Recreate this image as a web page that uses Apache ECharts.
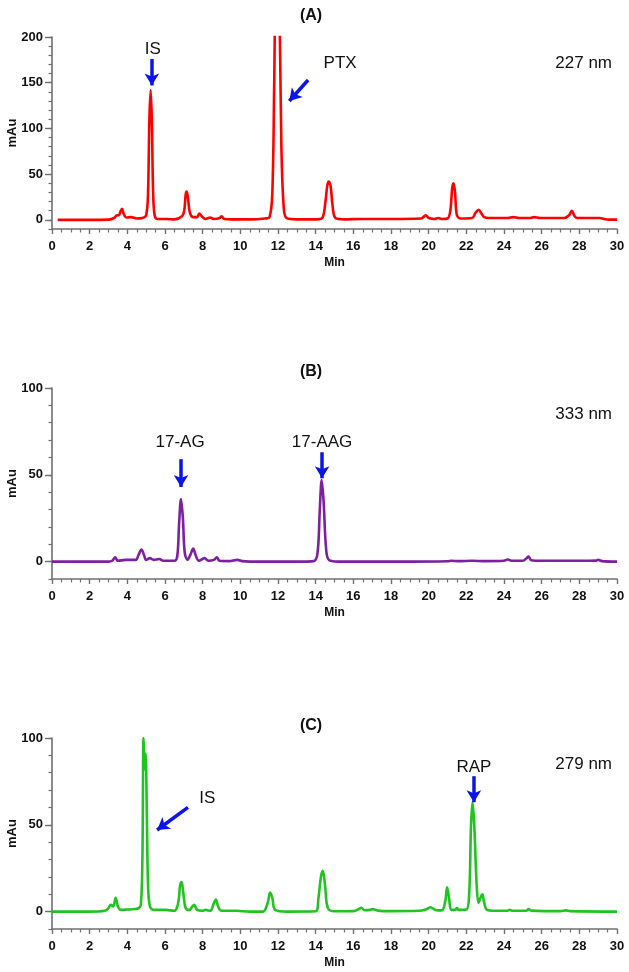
<!DOCTYPE html>
<html><head><meta charset="utf-8">
<script src="https://cdn.jsdelivr.net/npm/echarts@6/dist/echarts.min.js"></script>
<style>html,body{margin:0;padding:0;background:#fff}#c{width:629px;height:972px}</style>
</head><body><div id="c"></div>
<script>
// ---- data (retention time in min, absorbance in mAu) ----
const chromA = [[0.3,0],[1,0],[2,0],[3,0.3],[3.3,2],[3.45,5],[3.55,5],[3.65,10],[3.72,12],[3.8,7],[3.95,2.5],[4.2,3],[4.5,1.5],[4.8,2],[5.0,5],[5.1,30],[5.17,110],[5.24,142],[5.3,110],[5.37,30],[5.45,5],[5.6,1],[6.1,1],[6.5,0.5],[6.9,4],[7.02,10],[7.1,28],[7.15,31],[7.22,24],[7.32,8],[7.5,3],[7.7,3],[7.82,7],[7.95,4],[8.15,1],[8.4,2.5],[8.6,1],[8.9,2],[9.0,4],[9.15,1],[9.5,0.5],[10.5,0.5],[11.3,1.5],[11.55,3],[11.7,30],[11.8,150],[11.87,240],[12.0,260],[12.1,200],[12.18,80],[12.3,15],[12.45,2],[13,0.5],[14,0.5],[14.35,2],[14.52,20],[14.62,38],[14.7,42],[14.8,36],[14.9,15],[15.05,2],[15.5,0.5],[16.5,1],[18,1],[19.6,1.5],[19.85,5],[20.0,2],[20.3,1],[20.5,2],[20.7,1],[21.0,1.5],[21.15,10],[21.25,35],[21.32,40],[21.4,30],[21.5,5],[21.7,1.5],[22.3,2],[22.5,8],[22.65,11],[22.8,7],[22.95,3],[23.2,2],[23.5,2],[24.2,2],[24.5,3],[24.8,2],[25.4,2],[25.6,3],[25.9,2],[27.2,2],[27.45,5],[27.6,10],[27.75,4],[27.9,2],[29.1,2],[29.3,1],[29.6,0.3],[30,0.2]];
const chromB = [[0,0],[1,0],[2,0],[3,0],[3.2,0.5],[3.35,2.5],[3.5,0.5],[3.9,1],[4.2,1],[4.45,1],[4.6,4],[4.75,7],[4.88,4],[5.0,1],[5.2,2],[5.4,1],[5.7,1.5],[5.9,0.5],[6.5,0.5],[6.65,3],[6.75,22],[6.85,36],[6.95,25],[7.05,5],[7.2,1],[7.35,4],[7.5,7.5],[7.62,4],[7.8,0.5],[8.1,2],[8.3,0.5],[8.6,1],[8.75,2.5],[8.9,0.5],[9.4,0.3],[9.85,1],[10.1,0.3],[11,0],[12,0],[13,0],[13.9,0.3],[14.1,5],[14.22,30],[14.32,47],[14.42,35],[14.55,8],[14.7,1],[15.2,0],[17,0],[19,0],[21,0.2],[21.2,0.5],[21.6,0.3],[22.3,0.5],[23,0.3],[24.0,0.5],[24.2,1.2],[24.4,0.5],[25.0,0.5],[25.2,2],[25.3,3],[25.45,0.8],[26,0.5],[28,0.5],[28.9,0.6],[29.0,1],[29.2,0.3],[30,0]];
const chromC = [[0,0],[1,0],[2,0],[2.8,0.5],[3.0,2],[3.12,4],[3.25,3],[3.38,8],[3.5,3],[3.65,1],[4.0,1.2],[4.4,1.5],[4.6,2],[4.72,4],[4.8,30],[4.86,100],[4.91,82],[4.97,91],[5.03,60],[5.1,15],[5.2,3],[5.4,1],[6.0,1],[6.5,0.5],[6.7,5],[6.8,15],[6.88,17],[6.98,10],[7.1,2],[7.3,1],[7.45,3],[7.55,4],[7.7,1],[8.0,0.5],[8.15,1],[8.4,0.5],[8.6,5],[8.7,7],[8.82,3],[9.0,0.5],[9.8,0.5],[10.5,0],[11.2,0],[11.45,5],[11.58,11],[11.7,8],[11.85,1],[12.5,0],[14.0,0.2],[14.15,8],[14.28,20],[14.38,23.5],[14.5,15],[14.65,2],[15,0.2],[16,0.3],[16.3,1.5],[16.42,2.2],[16.6,0.8],[16.9,1],[17.0,1.5],[17.3,0.6],[18,0.3],[19.5,0.5],[19.9,1.5],[20.1,2.5],[20.35,1],[20.7,0.7],[20.88,6],[20.98,14],[21.08,8],[21.2,1],[21.4,1],[21.5,2],[21.6,1],[22.0,1.2],[22.15,10],[22.25,50],[22.33,63],[22.42,50],[22.55,15],[22.65,5],[22.75,8],[22.85,10],[22.95,5],[23.1,1],[23.5,0.5],[24.2,0.5],[24.3,1],[24.45,0.5],[25.2,0.6],[25.3,1.5],[25.45,0.6],[27,0.3],[27.3,0.7],[27.5,0.3],[30,0]];

const panelTitles = ['(A)','(B)','(C)'];
const wavelengths = ['227 nm','333 nm','279 nm'];
const yTicksA = [0,50,100,150,200];
const yTicksB = [0,50,100];
const yTicksC = [0,50,100];
const yMax = [200,100,100];
const lineColors = ['#ff0000','#7d1fa0','#1fc41f'];
const yTickSets = [yTicksA, yTicksB, yTicksC];

const chart = echarts.init(document.getElementById('c'));
const grids = [
  {left:52, right:12, top:37, bottom:743, containLabel:false, outerBoundsMode:'none'},
  {left:52, right:12, top:388, bottom:393, containLabel:false, outerBoundsMode:'none'},
  {left:52, right:12, top:738, bottom:43, containLabel:false, outerBoundsMode:'none'}
];
const axisCol = '#707070';
const lblFont = {fontFamily:'Arial, Liberation Sans, sans-serif', fontWeight:'bold', color:'#111', fontSize:13};

const xAxes = grids.map((g,i)=>({
  type:'value', gridIndex:i, min:0, max:30, interval:2,
  axisLine:{show:true, onZero:false, lineStyle:{color:axisCol, width:1.6}},
  axisTick:{show:true, length:5, lineStyle:{color:axisCol, width:1.4}},
  minorTick:{show:true, splitNumber:4, length:3.5, lineStyle:{color:axisCol, width:1.2}},
  splitLine:{show:false},
  axisLabel:{...lblFont, margin:11},
  name:'Min', nameLocation:'middle', nameGap:28, nameMoveOverlap:false,
  nameTextStyle:{...lblFont, fontSize:12}
}));
const yAxes = [];
grids.forEach((g,i)=>{
  // main axis: labels and major ticks at the tick values
  yAxes.push({
    type:'value', gridIndex:i, position:'left', min:-10, max:yMax[i], interval:10,
    axisLine:{show:true, lineStyle:{color:axisCol, width:1.6}},
    axisTick:{show:true, length:7, customValues:yTickSets[i], lineStyle:{color:axisCol, width:1.4}},
    splitLine:{show:false},
    axisLabel:{...lblFont, margin:9, customValues:yTickSets[i]},
    name:'mAu', nameLocation:'middle', nameGap:33, nameRotate:90, nameMoveOverlap:false,
    nameTextStyle:{...lblFont, fontSize:13}
  });
});
grids.forEach((g,i)=>{
  // overlay axis: minor ticks every 10
  yAxes.push({
    type:'value', gridIndex:i, position:'left', min:-10, max:yMax[i], interval:10,
    axisLine:{show:false}, axisLabel:{show:false}, splitLine:{show:false},
    axisTick:{show:true, length:3.5, lineStyle:{color:axisCol, width:1.2}}
  });
});

const arrowStyle = {color:'#0b16e6', width:3.5, type:'solid'};
function arrow(x1,y1,x2,y2){ return [{coord:[x1,y1], symbol:'none'},{coord:[x2,y2], symbol:'arrow', symbolSize:[11,12]}]; }
function tag(text,x,y){ return {coord:[x,y], value:text, symbol:'circle', symbolSize:0,
  label:{show:true, formatter:text, position:'inside', fontFamily:'Arial, Liberation Sans, sans-serif', fontSize:17, color:'#111'}}; }

const annotations = [
  {arrows:[arrow(5.3,176,5.3,147), arrow(13.6,153,12.6,130)], tags:[tag('IS',5.35,187), tag('PTX',15.3,171)]},
  {arrows:[arrow(6.85,59,6.85,43), arrow(14.34,63,14.34,48)], tags:[tag('17-AG',6.8,68.5), tag('17-AAG',14.34,68.5)]},
  {arrows:[arrow(7.22,60,5.58,47), arrow(22.4,78,22.4,63)], tags:[tag('IS',8.25,65.5), tag('RAP',22.4,83)]}
];
const datasets = [chromA, chromB, chromC];
const series = datasets.map((d,i)=>({
  type:'line', xAxisIndex:i, yAxisIndex:i, data:d, showSymbol:false, smooth:0.35,
  clip:true, lineStyle:{color:lineColors[i], width:2.6}, itemStyle:{color:lineColors[i]},
  silent:true, animation:false,
  markLine:{silent:true, animation:false, lineStyle:arrowStyle, label:{show:false}, data:annotations[i].arrows},
  markPoint:{silent:true, animation:false, data:annotations[i].tags}
}));

const graphics = [];
const titleY = [16, 372, 726];
const wlY = [63, 414, 764];
panelTitles.forEach((t,i)=>{
  graphics.push({type:'text', x:311, y:titleY[i], style:{text:t, font:'bold 16px Arial, Liberation Sans, sans-serif', fill:'#111', textAlign:'center', textVerticalAlign:'middle'}});
  graphics.push({type:'text', x:612, y:wlY[i], style:{text:wavelengths[i], font:'17px Arial, Liberation Sans, sans-serif', fill:'#111', textAlign:'right', textVerticalAlign:'middle'}});
});

chart.setOption({
  animation:false,
  grid:grids,
  xAxis:xAxes,
  yAxis:yAxes,
  series:series,
  graphic:graphics
});
</script></body></html>
